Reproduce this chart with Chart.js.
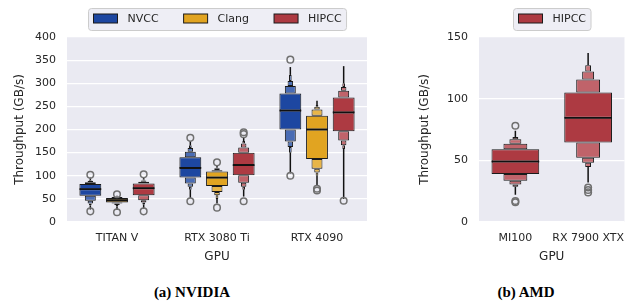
<!DOCTYPE html>
<html>
<head>
<meta charset="utf-8">
<script src="https://cdn.jsdelivr.net/npm/chart.js@4.4.0/dist/chart.umd.min.js"></script>
<style>
  body { margin: 0; background: #fff; width: 636px; height: 303px; position: relative; overflow: hidden; }
  canvas { position: absolute; top: 0; }
  #nvidia { left: 0; }
  #amd { left: 405px; }
  .cap { position: absolute; top: 284px; line-height: 18px; font: bold 15px "Liberation Serif", "DejaVu Serif", serif; color: #000; transform: translateX(-50%); white-space: nowrap; }
</style>
</head>
<body>
<canvas id="nvidia" width="400" height="270"></canvas>
<canvas id="amd" width="231" height="270"></canvas>
<div class="cap" style="left:192px">(a) NVIDIA</div>
<div class="cap" style="left:526px">(b) AMD</div>
<script>
const gpusNvidia = ["TITAN V", "RTX 3080 Ti", "RTX 4090"];
const gpusAmd = ["MI100", "RX 7900 XTX"];

// letter values per GPU, low to high:
// tail end, 1/32, 1/16, 1/8, Q1, median, Q3, 7/8, 15/16, 31/32, tail end
const nvcc = [
  [27, 36, 40, 46, 57, 71, 82, 86, 89, 91, 96],
  [52, 70, 76, 83, 96, 117, 140, 152, 160, 166, 175],
  [105, 150, 162, 174, 200, 241, 278, 294, 305, 318, 335],
];
const clang = [
  [26, 34, 37, 40, 42, 47, 52, 54, 55, 56, 57],
  [40, 50, 58, 65, 78, 96, 109, 112, 116, 118, 123],
  [78, 100, 107, 115, 136, 200, 230, 243, 249, 253, 262],
];
const hipccNv = [
  [29, 38, 42, 47, 58, 73, 83, 87, 90, 92, 97],
  [55, 70, 76, 85, 101, 123, 150, 161, 170, 175, 183],
  [50, 158, 166, 176, 196, 237, 269, 284, 292, 300, 337],
];
const hipccAmd = [
  [22, 28.5, 30.5, 33.5, 39, 49, 59, 63.5, 67, 69, 74],
  [32, 44.5, 48, 52, 64.5, 84.5, 105, 115.5, 122, 127, 137],
];

// outliers per GPU
const nvccOut = [[102, 23], [182, 45], [351, 100]];
const clangOut = [[60, 21], [129, 31], [72, 68]];
const hipccNvOut = [[103, 23], [190, 194, 45], [46]];
const hipccAmdOut = [[78, 16, 17], [28, 26, 24]];

Chart.defaults.font.family = '"DejaVu Sans"';
Chart.defaults.font.size = 11;
Chart.defaults.color = "#262626";

// pieces of a boxen: which letter values they span, width, shade (-1 = tail line)
const segs = [
  { from: 4, to: 5, w: 0.82, shade: 0 },
  { from: 5, to: 6, w: 0.82, shade: 0, median: true },
  { from: 3, to: 4, w: 0.41, shade: 1 },
  { from: 6, to: 7, w: 0.41, shade: 1 },
  { from: 2, to: 3, w: 0.205, shade: 2 },
  { from: 7, to: 8, w: 0.205, shade: 2 },
  { from: 1, to: 2, w: 0.1, shade: 3 },
  { from: 8, to: 9, w: 0.1, shade: 3 },
  { from: 0, to: 1, w: 0.1, shade: -1 },
  { from: 9, to: 10, w: 0.1, shade: -1 },
];

// hue: position of the compiler inside the group, slot: share of the group it may use
function boxen(lvs, outs, name, shades, hue, nHue, slot) {
  const dx = ((hue - (nHue - 1) / 2) * 0.8) / nHue;
  const sets = [];
  segs.forEach((s) => {
    sets.push({
      type: "bar",
      label: name,
      grouped: false,
      median: !!s.median,
      data: lvs.map((v, i) => ({ x: i + dx, y: [v[s.from], v[s.to]] })),
      backgroundColor: s.shade < 0 ? "#111111" : shades[s.shade],
      borderColor: "#1a1a1a",
      borderWidth: s.shade < 0 ? 0 : 1,
      borderSkipped: false,
      categoryPercentage: slot,
      barPercentage: s.w,
      maxBarThickness: s.shade < 0 ? 1.5 : undefined,
    });
  });
  sets.push({
    type: "scatter",
    label: name,
    order: -1,
    data: outs.flatMap((o, i) => o.map((y) => ({ x: i + dx, y: y }))),
    pointRadius: 3.3,
    pointBorderWidth: 1.5,
    pointBorderColor: "#707070",
    pointBackgroundColor: "rgba(0,0,0,0)",
  });
  return sets;
}

const bg = {
  id: "bg",
  beforeDraw(chart) {
    const { ctx, chartArea: a } = chart;
    ctx.save();
    ctx.fillStyle = "#eaeaf2";
    ctx.fillRect(a.left, a.top, a.right - a.left, a.bottom - a.top);
    ctx.restore();
  },
};

// median line on the base of the upper half of each central box
const medianLines = {
  id: "medianLines",
  afterDatasetsDraw(chart) {
    const ctx = chart.ctx;
    ctx.save();
    ctx.strokeStyle = "#111111";
    ctx.lineWidth = 1.6;
    chart.data.datasets.forEach((ds, i) => {
      if (!ds.median) return;
      chart.getDatasetMeta(i).data.forEach((el) => {
        ctx.beginPath();
        ctx.moveTo(el.x - el.width / 2, el.base);
        ctx.lineTo(el.x + el.width / 2, el.base);
        ctx.stroke();
      });
    });
    ctx.restore();
  },
};

function legendPlugin(items) {
  return {
    id: "boxenLegend",
    afterDraw(chart) {
      const ctx = chart.ctx;
      const a = chart.chartArea;
      ctx.save();
      ctx.font = '11px "DejaVu Sans"';
      const widths = items.map((it) => ctx.measureText(it.label).width);
      const total = 10 + widths.reduce((s, w) => s + 34 + w, 0) + 25 * (items.length - 1);
      let x = Math.round((a.left + a.right) / 2 - total / 2) + 0.5;
      ctx.beginPath();
      ctx.roundRect(x, 8.5, total, 22, 3);
      ctx.fillStyle = "rgba(234,234,242,0.8)";
      ctx.fill();
      ctx.strokeStyle = "#cccccc";
      ctx.lineWidth = 1;
      ctx.stroke();
      x += 5;
      items.forEach((it, i) => {
        ctx.fillStyle = it.color;
        ctx.fillRect(x, 14, 24, 9);
        ctx.strokeStyle = "#1a1a1a";
        ctx.strokeRect(x, 14, 24, 9);
        ctx.fillStyle = "#262626";
        ctx.textBaseline = "middle";
        ctx.fillText(it.label, x + 34, 19);
        x += 34 + widths[i] + 25;
      });
      ctx.restore();
    },
  };
}

function makeChart(id, gpus, sets, yMax, yAxisW, padRight, items) {
  return new Chart(document.getElementById(id), {
    type: "bar",
    data: { datasets: sets },
    options: {
      responsive: false,
      animation: false,
      devicePixelRatio: 1,
      layout: { padding: { top: 37, right: padRight, left: 0, bottom: 0 } },
      plugins: { legend: { display: false }, tooltip: { enabled: false } },
      scales: {
        x: {
          type: "linear",
          offset: false,
          min: -0.5,
          max: gpus.length - 0.5,
          grid: { display: false, drawTicks: false, offset: false },
          border: { display: false },
          ticks: {
            padding: 10,
            maxRotation: 0,
            autoSkip: false,
            callback: (v) => gpus[v],
          },
          afterBuildTicks: (s) => {
            s.ticks = gpus.map((g, i) => ({ value: i }));
          },
          title: { display: true, text: "GPU", font: { size: 12 }, padding: { top: 0, bottom: 6 } },
          afterFit: (s) => { s.height = 48; },
        },
        y: {
          min: 0,
          max: yMax,
          stacked: false,
          ticks: { stepSize: 50, padding: 11 },
          grid: { color: "#ffffff", lineWidth: 1.2, drawTicks: false },
          border: { display: false },
          title: { display: true, text: "Throughput (GB/s)", font: { size: 12 }, padding: { top: 13, bottom: 0 } },
          afterFit: (s) => { s.width = yAxisW; },
        },
      },
    },
    plugins: [bg, medianLines, legendPlugin(items)],
  });
}

const nvShades = ["#1d47a1", "#4a6cb4", "#5274b8", "#5a7bbc"];
const clShades = ["#e1a421", "#e8b548", "#eaba54", "#ecbf60"];
const hiShades = ["#ad3a42", "#c0636a", "#c46b71", "#c87378"];

const nvSets = [].concat(
  boxen(nvcc, nvccOut, "NVCC", nvShades, 0, 3, 1),
  boxen(clang, clangOut, "Clang", clShades, 1, 3, 1),
  boxen(hipccNv, hipccNvOut, "HIPCC", hiShades, 2, 3, 1)
);
const amdSets = boxen(hipccAmd, hipccAmdOut, "HIPCC", hiShades, 0, 1, 0.8);

makeChart("nvidia", gpusNvidia, nvSets, 400, 67, 33, [
  { label: "NVCC", color: nvShades[0] },
  { label: "Clang", color: clShades[0] },
  { label: "HIPCC", color: hiShades[0] },
]);
makeChart("amd", gpusAmd, amdSets, 150, 74, 8, [
  { label: "HIPCC", color: hiShades[0] },
]);
</script>
</body>
</html>
